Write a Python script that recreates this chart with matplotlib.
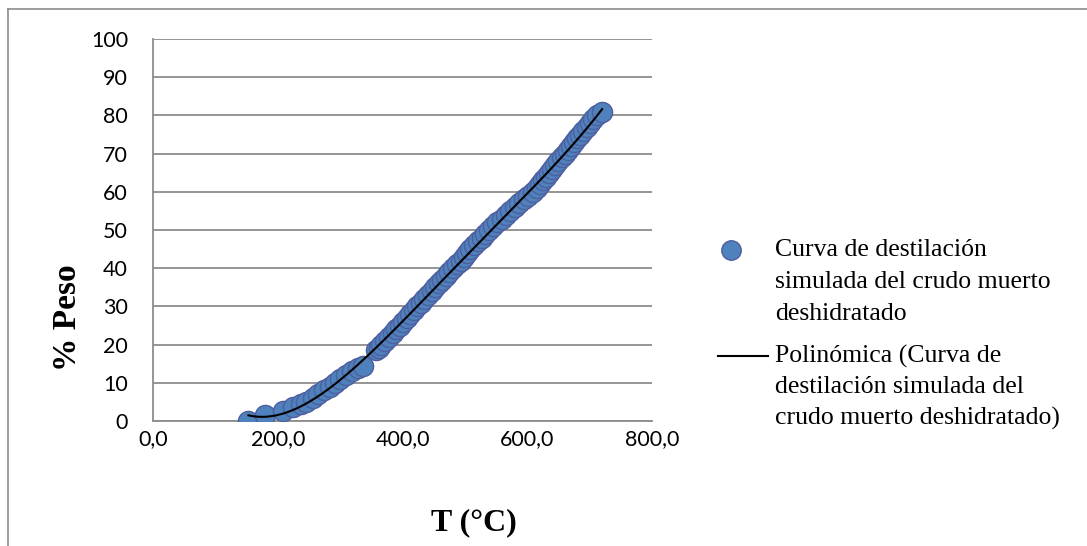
import matplotlib

matplotlib.use("Agg")
import matplotlib.pyplot as plt
import numpy as np
from matplotlib.lines import Line2D
from matplotlib.ticker import FuncFormatter

# simulated distillation points (T in °C, cumulative % weight)
TEMP_C = [153, 180, 209, 225, 238, 246, 256, 265, 274, 283, 291, 300, 310, 319, 329, 337,
          358, 362, 366, 372, 378, 384, 390, 396, 401, 407, 412, 418, 423, 429, 435, 441,
          447, 452, 458, 464, 470, 475, 481, 487, 493, 498, 504, 509, 515, 521, 527, 532,
          538, 545, 552, 559, 566, 573, 580, 587, 594, 601, 609, 615, 620, 625, 630, 635,
          640, 645, 650, 655, 660, 665, 670, 675, 680, 685, 690, 695, 700, 705, 712, 720]
WEIGHT_PCT = [0, 1.5, 2.7, 3.6, 4.4, 5, 6, 7, 8, 9, 10, 11, 12, 13, 14, 14.5,
              18.5, 19, 20, 21, 22, 23, 24, 25, 26, 27, 28, 29, 30, 31, 32, 33,
              34, 35, 36, 37, 38, 39, 40, 41, 42, 43, 44, 45, 46, 47, 48, 49,
              50, 51, 52, 53, 54, 55, 56, 57, 58, 59, 60, 61, 62, 63, 64, 65,
              66, 67, 68, 69, 70, 71, 72, 73, 74, 75, 76, 77, 78, 79, 80, 81]

Y_TICKS = list(range(0, 101, 10))
X_TICKS = [0, 200, 400, 600, 800]

POINTS_LABEL = ["Curva de destilación", "simulada del crudo muerto", "deshidratado"]
TREND_LABEL = ["Polinómica (Curva de", "destilación simulada del", "crudo muerto deshidratado)"]

POINT_FACE = "#4f81bd"
POINT_EDGE = "#4d5f9e"
GRID_GRAY = "#8c8c8c"

W, H = 1087, 546


def fx(px: float) -> float:
    return px / W


def fy(py: float) -> float:
    return 1 - py / H


def main() -> None:
    fig = plt.figure(figsize=(W / 100, H / 100), dpi=100)
    ax = fig.add_axes([fx(153), fy(421), (652 - 153) / W, (421 - 39) / H])

    ax.scatter(TEMP_C, WEIGHT_PCT, s=210, color=POINT_FACE, edgecolors=POINT_EDGE,
               linewidths=1.0, zorder=3)

    # polynomial trendline fitted on the points
    coeffs = np.polyfit(TEMP_C, WEIGHT_PCT, 4)
    t_fit = np.linspace(min(TEMP_C), max(TEMP_C), 300)
    ax.plot(t_fit, np.polyval(coeffs, t_fit), color="black", linewidth=1.5, zorder=4)

    ax.set_xlim(0, 800)
    ax.set_ylim(0, 100)
    ax.set_xticks(X_TICKS)
    ax.set_yticks(Y_TICKS)
    ax.xaxis.set_major_formatter(FuncFormatter(lambda v, _: f"{v:.1f}".replace(".", ",")))
    ax.grid(axis="y", color=GRID_GRAY, linewidth=1.3)
    ax.set_axisbelow(True)
    for side in ("top", "right"):
        ax.spines[side].set_visible(False)
    for side in ("left", "bottom"):
        ax.spines[side].set_color(GRID_GRAY)
        ax.spines[side].set_linewidth(1.3)
    ax.tick_params(length=0, labelsize=15.5)
    ax.tick_params(axis="y", pad=18)
    ax.tick_params(axis="x", pad=6)
    for label in ax.get_xticklabels() + ax.get_yticklabels():
        label.set_family(["Lato", "DejaVu Sans"])

    fig.text(fx(68), fy(318), "% Peso", rotation=90, ha="center", va="center",
             family="Liberation Serif", fontweight="bold", fontsize=24)
    fig.text(fx(474), fy(523), "T (°C)", ha="center", va="center",
             family="Liberation Serif", fontweight="bold", fontsize=23)

    # legend drawn by hand so the keys sit on the first line of each entry
    fig.add_artist(Line2D([fx(731)], [fy(250)], marker="o", markersize=14,
                          markerfacecolor=POINT_FACE, markeredgecolor=POINT_EDGE,
                          linestyle="none", transform=fig.transFigure))
    fig.add_artist(Line2D([fx(718), fx(768)], [fy(356), fy(356)], color="black",
                          linewidth=1.5, transform=fig.transFigure))
    legend_font = {"family": "Liberation Serif", "size": 18.5}
    for row, text in enumerate(POINTS_LABEL):
        fig.text(fx(775), fy(250 + 32 * row), text, ha="left", va="center", **legend_font)
    for row, text in enumerate(TREND_LABEL):
        fig.text(fx(775), fy(356 + 31 * row), text, ha="left", va="center", **legend_font)

    # outer chart-area frame (only top and left edges are visible)
    fig.add_artist(Line2D([fx(8), fx(8)], [0, fy(9)], color=GRID_GRAY,
                          linewidth=1.2, transform=fig.transFigure))
    fig.add_artist(Line2D([fx(8), 1], [fy(9), fy(9)], color=GRID_GRAY,
                          linewidth=1.2, transform=fig.transFigure))

    fig.savefig("out.png", dpi=100)
    plt.close(fig)


if __name__ == "__main__":
    main()
